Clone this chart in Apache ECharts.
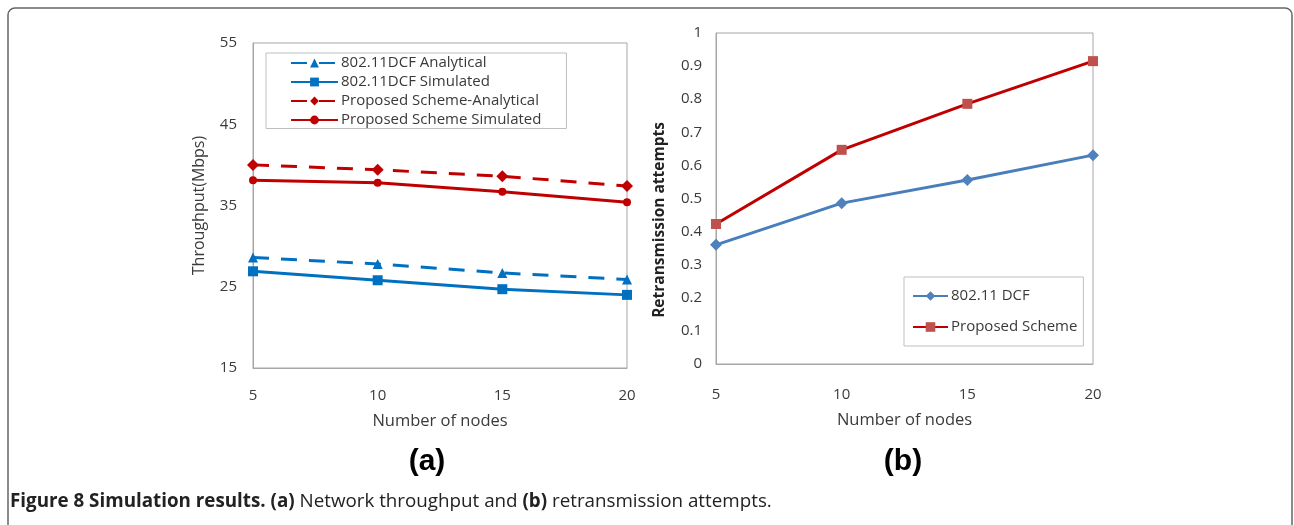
<!DOCTYPE html>
<html><head><meta charset="utf-8">
<script src="https://cdn.jsdelivr.net/npm/echarts@6/dist/echarts.min.js"></script>
<style>html,body{margin:0;padding:0;background:#fff}#c{width:1294px;height:525px}</style>
</head><body><div id="c"></div>
<script>
const nodes = [5, 10, 15, 20];
const dcfAnalytical = [28.6, 27.8, 26.7, 25.9];
const dcfSimulated = [26.9, 25.8, 24.7, 24.0];
const propAnalytical = [40.0, 39.4, 38.6, 37.4];
const propSimulated = [38.1, 37.8, 36.7, 35.4];
const retxDcf = [0.36, 0.486, 0.556, 0.631];
const retxProp = [0.423, 0.647, 0.786, 0.915];

const pair = (ys) => nodes.map((x, i) => [x, ys[i]]);
const tc = '#3A3A3A';
const font = '"Open Sans", "Noto Sans", sans-serif';
const blueA = '#0070C0', redA = '#C00000';
const blueB = '#4A7EBB', redB = '#C00000';

const chart = echarts.init(document.getElementById('c'), null, {renderer: 'canvas'});
const xAxisCommon = {
  type: 'value', min: 5, max: 20, interval: 5,
  axisLine: {lineStyle: {color: '#A6A6A6', width: 1}},
  axisTick: {show: false}, splitLine: {show: false},
  axisLabel: {color: tc, fontSize: 15, fontFamily: font, margin: 20},
  name: 'Number of nodes', nameLocation: 'middle',
  nameTextStyle: {color: tc, fontSize: 16.5, fontFamily: font}
};
chart.setOption({
  animation: false,
  textStyle: {fontFamily: font},
  grid: [
    {left: 253, right: 667, top: 43, bottom: 157, show: true, borderColor: '#A6A6A6', borderWidth: 1},
    {left: 716, right: 201, top: 33, bottom: 161, show: true, borderColor: '#A6A6A6', borderWidth: 1}
  ],
  xAxis: [
    Object.assign({}, xAxisCommon, {gridIndex: 0, nameGap: 45}),
    Object.assign({}, xAxisCommon, {gridIndex: 1, nameGap: 48, axisLabel: {color: tc, fontSize: 15, fontFamily: font, margin: 23}})
  ],
  yAxis: [
    {gridIndex: 0, type: 'value', min: 15, max: 55, interval: 10,
     axisLine: {show: true, lineStyle: {color: '#A6A6A6'}}, axisTick: {show: false}, splitLine: {show: false},
     axisLabel: {color: tc, fontSize: 15, fontFamily: font, margin: 16},
     name: 'Throughput(Mbps)', nameLocation: 'middle', nameGap: 46,
     nameTextStyle: {color: tc, fontSize: 16, fontFamily: font}},
    {gridIndex: 1, type: 'value', min: 0, max: 1, interval: 0.1,
     axisLine: {show: true, lineStyle: {color: '#A6A6A6'}}, axisTick: {show: false}, splitLine: {show: false},
     axisLabel: {color: tc, fontSize: 15, fontFamily: font, margin: 14}}
  ],
  legend: [
    {data: ['802.11DCF Analytical', '802.11DCF Simulated', 'Proposed Scheme-Analytical', 'Proposed Scheme Simulated'],
     orient: 'vertical', left: 266, top: 53, itemWidth: 47, itemHeight: 11, itemGap: 4,
     padding: [2.5, 25, 1, 24], borderColor: '#BFBFBF', borderWidth: 1,
     textStyle: {color: tc, fontSize: 15, fontFamily: font, padding: [0, 0, 0, -2]}},
    {data: ['802.11 DCF', 'Proposed Scheme'],
     orient: 'vertical', left: 904, top: 277, itemWidth: 35, itemHeight: 12, itemGap: 16,
     padding: [11.5, 6, 11.5, 8], borderColor: '#BFBFBF', borderWidth: 1,
     textStyle: {color: tc, fontSize: 15, fontFamily: font, padding: [0, 0, 0, -2]}}
  ],
  series: [
    {name: '802.11DCF Analytical', type: 'line', xAxisIndex: 0, yAxisIndex: 0, data: pair(dcfAnalytical),
     symbol: 'triangle', symbolSize: 10, itemStyle: {color: blueA},
     lineStyle: {color: blueA, width: 3, type: [16, 12]}},
    {name: '802.11DCF Simulated', type: 'line', xAxisIndex: 0, yAxisIndex: 0, data: pair(dcfSimulated),
     symbol: 'rect', symbolSize: 10, itemStyle: {color: blueA},
     lineStyle: {color: blueA, width: 3}},
    {name: 'Proposed Scheme-Analytical', type: 'line', xAxisIndex: 0, yAxisIndex: 0, data: pair(propAnalytical),
     symbol: 'diamond', symbolSize: 12, itemStyle: {color: redA},
     lineStyle: {color: redA, width: 3, type: [16, 12]}},
    {name: 'Proposed Scheme Simulated', type: 'line', xAxisIndex: 0, yAxisIndex: 0, data: pair(propSimulated),
     symbol: 'circle', symbolSize: 8, itemStyle: {color: redA},
     lineStyle: {color: redA, width: 3}},
    {name: '802.11 DCF', type: 'line', xAxisIndex: 1, yAxisIndex: 1, data: pair(retxDcf),
     symbol: 'diamond', symbolSize: 12, itemStyle: {color: '#4F81BD'},
     lineStyle: {color: blueB, width: 3}},
    {name: 'Proposed Scheme', type: 'line', xAxisIndex: 1, yAxisIndex: 1, data: pair(retxProp),
     symbol: 'rect', symbolSize: 10, itemStyle: {color: '#C0504D'},
     lineStyle: {color: redB, width: 3}}
  ],
  graphic: [
    {type: 'rect', shape: {x: 8, y: 8, width: 1284, height: 540, r: 7}, silent: true,
     style: {fill: 'none', stroke: '#666', lineWidth: 1.5}, z: -1},
    {type: 'text', x: 660, y: 220, rotation: Math.PI / 2,
     style: {text: 'Retransmission attempts', fill: '#222', font: 'bold 15.5px "Open Sans", sans-serif', align: 'center', verticalAlign: 'middle'}},
    {type: 'text', x: 427, y: 462, style: {text: '(a)', fill: '#000', font: 'bold 30px "Liberation Sans", Arial, sans-serif', align: 'center', verticalAlign: 'middle'}},
    {type: 'text', x: 903, y: 462, style: {text: '(b)', fill: '#000', font: 'bold 30px "Liberation Sans", Arial, sans-serif', align: 'center', verticalAlign: 'middle'}},
    {type: 'text', x: 10, y: 502, style: {
      text: '{b|Figure 8 Simulation results. (a)}{n| Network throughput and }{b|(b)}{n| retransmission attempts.}',
      verticalAlign: 'middle',
      rich: {
        b: {fontWeight: 'bold', fontSize: 18.8, fontFamily: '"Open Sans", sans-serif', fill: '#222'},
        n: {fontSize: 18.8, fontFamily: '"Open Sans", sans-serif', fill: '#222'}
      }}}
  ]
});
</script></body></html>
